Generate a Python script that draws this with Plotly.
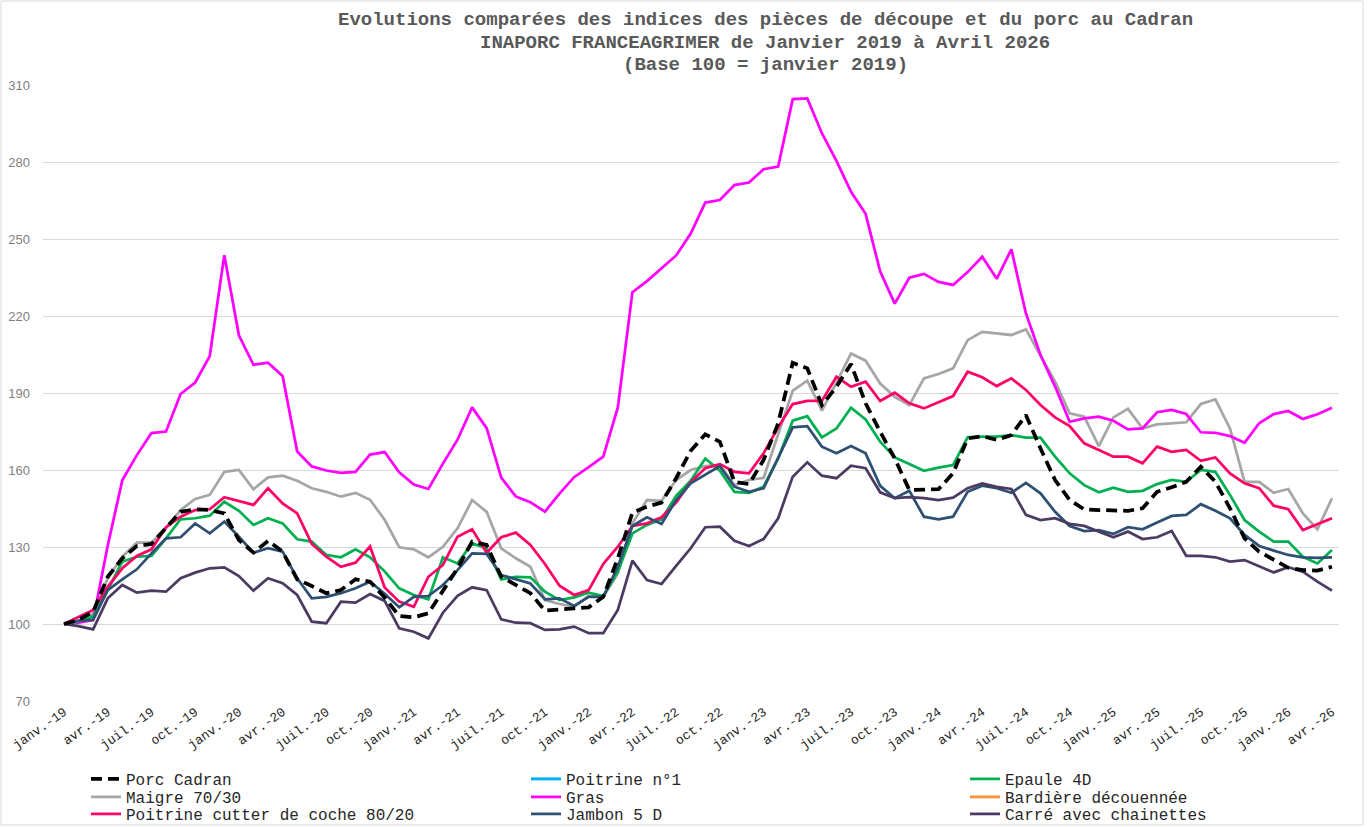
import plotly.graph_objects as go

# ---------------- data ----------------
mois = ["janv.", "févr.", "mars", "avr.", "mai", "juin", "juil.", "août", "sept.", "oct.", "nov.", "déc."]
annees = ["19", "20", "21", "22", "23", "24", "25", "26"]
categories = [f"{m}-{a}" for a in annees for m in mois][:88]   # janv.-19 ... avr.-26
tick_labels = categories[::3]

porc_cadran = [100, 101.6, 104.8, 118.4, 125.6, 130.4, 131.2, 137.7, 143.7, 144.7, 144.4, 143.1,
               132.7, 127.8, 132.4, 128.2, 117.4, 114.8, 112.0, 113.2, 117.4, 116.5, 110.3, 103.1,
               102.6, 104.2, 113.2, 121.7, 132.1, 130.8, 118.4, 115.2, 112.0, 105.2, 105.5, 106.1,
               106.5, 110.6, 125.6, 143.4, 145.7, 147.3, 156.8, 167.5, 173.9, 171.0, 155.4, 154.5,
               163.9, 178.2, 201.8, 199.6, 185.3, 192.4, 201.3, 186.0, 174.9, 164.5, 152.2, 152.2,
               152.5, 158.7, 172.3, 173.2, 171.7, 173.6, 181.4, 168.4, 156.1, 148.3, 144.7, 144.4,
               144.4, 144.1, 145.1, 151.5, 153.3, 155.4, 161.3, 155.4, 145.1, 133.4, 128.2, 124.9,
               121.9, 121.0, 120.8, 122.3]

poitrine_n1 = [None]      # no values plotted in the source chart (legend entry only)
bardiere = [None]         # no values plotted in the source chart (legend entry only)

epaule_4d = [100, 101.0, 102.9, 113.2, 124.3, 126.2, 126.5, 133.4, 140.8, 141.2, 142.2, 147.6,
             144.1, 138.6, 141.2, 139.2, 133.0, 132.1, 126.9, 126.0, 129.1, 126.0, 120.5, 113.9,
             111.3, 109.6, 126.0, 123.6, 131.4, 129.5, 117.4, 118.4, 118.2, 112.6, 109.3, 110.4,
             112.2, 110.9, 120.4, 135.3, 138.6, 140.8, 149.9, 155.8, 164.5, 159.7, 151.5, 151.1,
             153.5, 164.5, 179.2, 181.0, 172.7, 176.2, 184.3, 179.7, 171.0, 164.9, 162.3, 159.7,
             160.9, 161.9, 172.7, 173.0, 173.0, 173.6, 172.6, 172.6, 165.2, 158.7, 154.1, 151.3,
             153.1, 151.5, 151.9, 154.5, 156.1, 155.4, 160.0, 159.3, 150.3, 140.5, 136.0, 132.1,
             132.1, 126.2, 123.6, 128.8]

maigre = [100, 101.0, 104.0, 117.8, 126.2, 131.7, 131.7, 137.3, 144.4, 148.7, 150.3, 159.3,
          160.0, 152.5, 157.1, 157.8, 155.8, 152.9, 151.5, 149.6, 151.1, 148.4, 140.6, 129.9,
          129.1, 126.0, 130.1, 137.3, 148.3, 143.7, 129.5, 125.6, 122.3, 109.3, 107.8, 106.7,
          110.9, 110.6, 119.7, 139.2, 148.3, 148.0, 156.1, 160.0, 161.5, 162.0, 154.1, 156.1,
          156.9, 174.3, 190.9, 194.8, 183.1, 194.0, 205.4, 202.6, 193.7, 188.5, 185.3, 195.7,
          197.4, 199.6, 210.6, 213.8, 213.2, 212.6, 214.8, 204.8, 194.4, 182.1, 180.8, 169.3,
          180.5, 183.8, 176.2, 177.8, 178.2, 178.6, 185.7, 187.5, 176.2, 155.4, 155.4, 151.1,
          152.6, 143.1, 136.9, 149.0]

gras = [100, 100.5, 101.5, 130.5, 156.0, 165.8, 174.4, 175.0, 189.6, 194.1, 204.4, 243.7,
        212.5, 201.0, 201.8, 196.6, 167.2, 161.4, 159.8, 158.9, 159.3, 166.0, 167.0, 159.1,
        154.3, 152.6, 162.5, 171.8, 184.4, 176.3, 157.0, 149.7, 147.4, 143.8, 150.8, 157.2,
        161.1, 165.2, 184.4, 229.3, 233.6, 238.7, 243.6, 252.1, 264.2, 265.2, 271.0, 272.0,
        277.2, 278.2, 304.5, 304.8, 291.2, 280.4, 268.4, 259.8, 237.3, 224.8, 234.9, 236.4,
        233.3, 232.1, 237.1, 243.1, 234.5, 246.0, 221.0, 204.8, 192.5, 178.8, 180.1, 180.8,
        179.2, 175.8, 176.2, 182.5, 183.4, 181.8, 174.7, 174.5, 173.2, 170.6, 178.2, 181.8,
        183.0, 179.9, 181.7, 184.3]

poitrine_cutter = [100, 102.6, 105.5, 114.5, 121.7, 126.5, 129.1, 137.7, 141.8, 144.4, 144.7, 149.4,
                   148.0, 146.4, 152.9, 147.0, 143.1, 131.2, 126.2, 122.3, 123.9, 130.2, 114.2, 108.7,
                   106.7, 118.4, 123.0, 134.0, 136.9, 127.8, 133.8, 135.6, 130.8, 123.4, 114.9, 111.3,
                   113.2, 123.4, 130.1, 138.2, 139.2, 141.6, 147.3, 155.3, 160.7, 162.3, 159.3, 158.7,
                   166.5, 176.6, 185.7, 186.9, 186.9, 196.3, 192.4, 194.4, 186.9, 190.1, 186.0, 184.0,
                   186.4, 188.8, 198.3, 196.1, 192.7, 195.7, 191.2, 185.3, 180.5, 177.1, 170.4, 167.8,
                   165.2, 165.2, 162.6, 169.1, 167.1, 167.8, 163.6, 164.9, 158.7, 154.8, 152.9, 146.1,
                   144.7, 136.6, 139.0, 141.2]

jambon_5d = [100, 101.3, 101.6, 113.2, 117.4, 121.3, 127.5, 133.4, 133.8, 139.2, 135.3, 139.9,
             134.0, 127.8, 129.5, 128.2, 117.8, 110.0, 110.6, 112.0, 113.9, 116.5, 111.8, 106.5,
             110.6, 110.9, 115.2, 121.0, 127.5, 127.3, 119.1, 117.4, 115.8, 109.6, 110.0, 107.0,
             110.6, 110.6, 122.3, 138.2, 141.6, 139.0, 148.3, 154.8, 158.0, 161.5, 153.5, 151.5,
             152.9, 164.5, 176.6, 177.1, 169.1, 166.5, 169.3, 166.5, 153.8, 149.0, 151.9, 141.8,
             140.8, 141.8, 151.5, 153.9, 152.9, 151.1, 155.0, 150.9, 143.7, 138.2, 136.2, 136.6,
             135.1, 137.7, 136.9, 139.5, 142.1, 142.5, 146.7, 144.1, 141.2, 134.7, 130.4, 128.6,
             126.9, 126.0, 125.8, 126.0]

carre = [100, 99.2, 97.9, 110.0, 115.2, 112.2, 113.0, 112.6, 117.8, 120.0, 121.7, 122.1,
         118.7, 113.0, 117.8, 115.9, 111.3, 100.9, 100.3, 108.7, 108.3, 111.7, 109.0, 98.3,
         97.0, 94.4, 104.4, 111.0, 114.3, 113.2, 101.8, 100.5, 100.3, 97.7, 97.9, 99.0,
         96.4, 96.4, 105.5, 124.7, 117.1, 115.6, 122.6, 129.5, 137.7, 137.9, 132.4, 130.4,
         133.1, 141.2, 157.4, 163.0, 157.8, 156.8, 161.7, 160.7, 151.3, 149.0, 149.4, 149.0,
         148.3, 149.2, 152.9, 154.8, 153.4, 152.6, 142.5, 140.5, 141.2, 139.0, 138.2, 136.0,
         133.8, 136.0, 133.1, 133.8, 136.2, 126.5, 126.5, 126.0, 124.3, 124.9, 122.6, 120.1,
         122.1, 120.4, 116.5, 113.0]

y_ticks = [70, 100, 130, 160, 190, 220, 250, 280, 310]

title_lines = [
    "Evolutions comparées des indices des pièces de découpe et du porc au Cadran",
    "INAPORC FRANCEAGRIMER de Janvier 2019 à Avril 2026",
    "(Base 100 = janvier 2019)",
]

# ---------------- styling ----------------
MONO = "Courier New, Liberation Mono, monospace"
series = [
    # name, values, color, width, dash, legend id
    ("Poitrine n°1", poitrine_n1, "#00B0F0", 3, "solid", "legend2"),
    ("Bardière découennée", bardiere, "#F79646", 3, "solid", "legend6"),
    ("Maigre 70/30", maigre, "#A6A6A6", 2.75, "solid", "legend4"),
    ("Gras", gras, "#FF00FF", 2.75, "solid", "legend5"),
    ("Epaule 4D", epaule_4d, "#00B050", 2.75, "solid", "legend3"),
    ("Poitrine cutter de coche 80/20", poitrine_cutter, "#FF0066", 2.75, "solid", "legend7"),
    ("Jambon 5 D", jambon_5d, "#2E5073", 2.75, "solid", "legend8"),
    ("Carré avec chainettes", carre, "#4B3B63", 2.75, "solid", "legend9"),
    ("Porc Cadran", porc_cadran, "#000000", 3.75, "11px,6px", "legend"),
]

fig = go.Figure()
for name, vals, color, width, dash, leg in series:
    fig.add_trace(go.Scatter(
        x=categories[:len(vals)], y=vals, name=name, mode="lines",
        line=dict(color=color, width=width, dash=dash),
        legend=leg, hoverinfo="x+y+name",
    ))

# geometry (pixels of the 1369x827 picture)
W, H = 1369, 827
L, R, T, B = 43, 1339, 85, 701
pw, ph = R - L, B - T

def px_x(x):
    return (x - L) / pw

def px_y(y):
    return (B - y) / ph

# legend placement: three columns x three rows
col_px = [86, 526, 965]
row_px = [779, 797, 814]
legend_cells = {
    "legend": (0, 0), "legend2": (1, 0), "legend3": (2, 0),
    "legend4": (0, 1), "legend5": (1, 1), "legend6": (2, 1),
    "legend7": (0, 2), "legend8": (1, 2), "legend9": (2, 2),
}
legend_layout = {}
for key, (c, r) in legend_cells.items():
    legend_layout[key] = dict(
        x=px_x(col_px[c]), xanchor="left",
        y=px_y(row_px[r]), yanchor="middle",
        orientation="v", bgcolor="rgba(0,0,0,0)",
        font=dict(family=MONO, size=16, color="#262626"),
        itemwidth=30,
    )

title_y = [20, 43, 65]
annotations = [
    dict(text=f"<b>{t}</b>", x=px_x(765), y=px_y(yy), xref="paper", yref="paper",
         xanchor="center", yanchor="middle", showarrow=False,
         font=dict(family=MONO, size=19, color="#595959"))
    for t, yy in zip(title_lines, title_y)
]

fig.update_layout(
    width=W, height=H,
    margin=dict(l=L, r=W - R, t=T, b=H - B, autoexpand=False),
    paper_bgcolor="white", plot_bgcolor="white",
    showlegend=True,
    annotations=annotations,
    xaxis=dict(
        type="category", categoryorder="array", categoryarray=categories,
        range=[-1.44, 87.48],
        tickvals=tick_labels, ticktext=tick_labels, tickangle=-35,
        tickfont=dict(family=MONO, size=13, color="#262626"),
        showgrid=False, zeroline=False, showline=False, ticks="",
    ),
    yaxis=dict(
        range=[70, 310], tickvals=y_ticks,
        tickfont=dict(family="Liberation Sans Narrow, Liberation Sans, Arial", size=13, color="#808080"),
        showgrid=True, gridcolor="#D9D9D9", gridwidth=1,
        zeroline=False, showline=False, ticks="", ticklabelstandoff=12,
    ),
    **legend_layout,
    shapes=[dict(type="rect", xref="paper", yref="paper",
                 x0=px_x(1), x1=px_x(1363),
                 y0=px_y(825), y1=px_y(1),
                 line=dict(color="#D9D9D9", width=1), fillcolor="rgba(0,0,0,0)", layer="below")],
)

fig.write_html("out.html", config={"displayModeBar": False},
               post_script="document.body.style.margin='0px';")
